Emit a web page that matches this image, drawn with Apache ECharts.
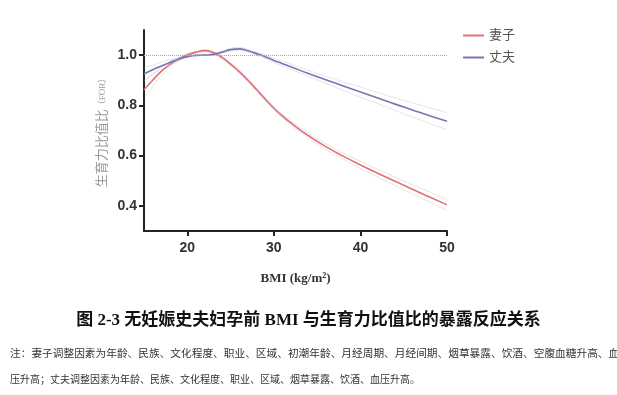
<!DOCTYPE html>
<html>
<head>
<meta charset="utf-8">
<script src="https://cdn.jsdelivr.net/npm/echarts@6/dist/echarts.min.js"></script>
<style>html,body{margin:0;padding:0;background:#fff}#c{width:617px;height:395px}</style>
</head>
<body>
<div id="c"></div>
<script>
const bmi = [15,16,17,18,19,20,21,22,23,24,25,26,27,28,29,30,31,32,34,36,38,40,42,44,46,48,50];
const wife = [0.862,0.900,0.935,0.963,0.985,1.001,1.012,1.018,1.010,0.991,0.964,0.934,0.900,0.863,0.825,0.789,0.757,0.729,0.679,0.636,0.598,0.563,0.530,0.498,0.466,0.435,0.404];
const wifeUpper = [0.897,0.925,0.952,0.974,0.993,1.006,1.015,1.022,1.015,0.997,0.970,0.940,0.906,0.869,0.831,0.796,0.764,0.737,0.689,0.647,0.610,0.577,0.545,0.515,0.484,0.455,0.426];
const wifeLower = [0.827,0.875,0.918,0.952,0.977,0.996,1.009,1.014,1.005,0.985,0.958,0.928,0.894,0.857,0.819,0.782,0.750,0.721,0.669,0.625,0.586,0.549,0.515,0.481,0.448,0.415,0.382];
const husband = [0.925,0.942,0.957,0.971,0.984,0.994,0.999,1.000,1.003,1.012,1.022,1.025,1.017,1.006,0.994,0.979,0.966,0.953,0.927,0.902,0.877,0.853,0.829,0.805,0.782,0.759,0.737];
const husbandUpper = [0.950,0.960,0.972,0.981,0.990,0.998,1.001,1.002,1.006,1.016,1.027,1.031,1.023,1.012,1.001,0.987,0.975,0.963,0.939,0.916,0.894,0.873,0.851,0.830,0.810,0.790,0.771];
const husbandLower = [0.900,0.924,0.942,0.961,0.978,0.990,0.997,0.998,1.000,1.008,1.017,1.019,1.011,1.000,0.987,0.971,0.957,0.943,0.915,0.888,0.860,0.833,0.807,0.780,0.754,0.728,0.703];
const xTicks = [20,30,40,50];
const yTicks = [0.4,0.6,0.8,1.0];
const refValue = 1.0;
const names = ['妻子','丈夫'];
const titleText = '图 2-3 无妊娠史夫妇孕前 BMI 与生育力比值比的暴露反应关系';
const note1 = '注：妻子调整因素为年龄、民族、文化程度、职业、区域、初潮年龄、月经周期、月经间期、烟草暴露、饮酒、空腹血糖升高、血';
const note2 = '压升高；丈夫调整因素为年龄、民族、文化程度、职业、区域、烟草暴露、饮酒、血压升高。';

const pairs = (xs, ys) => xs.map((x, i) => [x, ys[i]]);
const RED = '#e46f78', BLUE = '#7676b6', BAND = 'rgba(170,170,170,0.3)';
const cjk = '"Liberation Serif","Noto Sans CJK SC",serif';

const chart = echarts.init(document.getElementById('c'));
const bandSeries = (d) => ({
  type: 'line', data: d, smooth: true, showSymbol: false, silent: true,
  lineStyle: { color: BAND, width: 1 }, z: 1
});
chart.setOption({
  animation: false,
  backgroundColor: '#fff',
  grid: { left: 144, right: 170, top: 30, bottom: 164 },
  legend: {
    data: names, orient: 'vertical', left: 458, top: 24, itemGap: 9,
    icon: 'rect', itemWidth: 21, itemHeight: 2,
    textStyle: { color: '#555', fontSize: 13, fontFamily: cjk }
  },
  xAxis: {
    type: 'value', min: 15, max: 50,
    axisLine: { show: true, lineStyle: { color: '#222', width: 2 } },
    axisTick: { show: true, length: 5, lineStyle: { color: '#222', width: 2 }, customValues: xTicks },
    axisLabel: { customValues: xTicks, margin: 10, color: '#333', fontSize: 14, fontWeight: 'bold', fontFamily: '"Liberation Sans",Arial,sans-serif' },
    splitLine: { show: false },
    name: 'BMI (kg/m{s|2})', nameLocation: 'middle', nameGap: 41,
    nameTextStyle: { color: '#333', fontSize: 13, fontWeight: 'bold', fontFamily: cjk,
      rich: { s: { fontSize: 8, fontWeight: 'bold', verticalAlign: 'top', color: '#333', fontFamily: cjk, padding: [0,0,6,0] } } }
  },
  yAxis: {
    type: 'value', min: 0.3, max: 1.1,
    axisLine: { show: true, lineStyle: { color: '#222', width: 2 } },
    axisTick: { show: true, length: 5, lineStyle: { color: '#222', width: 2 }, customValues: yTicks },
    axisLabel: { customValues: yTicks, margin: 7, color: '#333', fontSize: 14, fontWeight: 'bold', fontFamily: '"Liberation Sans",Arial,sans-serif',
      formatter: v => v.toFixed(1) },
    splitLine: { show: false },
    name: '生育力比值比{f|（FOR）}', nameLocation: 'middle', nameGap: 35, nameRotate: 90,
    nameTextStyle: { color: '#999', fontSize: 13, fontFamily: cjk,
      rich: { f: { fontSize: 9, color: '#999', fontFamily: cjk } } }
  },
  series: [
    bandSeries(pairs(bmi, wifeUpper)),
    bandSeries(pairs(bmi, wifeLower)),
    bandSeries(pairs(bmi, husbandUpper)),
    bandSeries(pairs(bmi, husbandLower)),
    { name: names[0], type: 'line', data: pairs(bmi, wife), smooth: true, showSymbol: false,
      lineStyle: { color: RED, width: 1.6 }, itemStyle: { color: RED }, z: 3,
      markLine: { silent: true, symbol: 'none', label: { show: false },
        lineStyle: { color: '#aaa', type: 'dotted', width: 1 }, data: [{ yAxis: refValue }] } },
    { name: names[1], type: 'line', data: pairs(bmi, husband), smooth: true, showSymbol: false,
      lineStyle: { color: BLUE, width: 1.6 }, itemStyle: { color: BLUE }, z: 4 }
  ],
  graphic: [
    { type: 'text', left: 'center', top: 312, style: { text: titleText, fontSize: 17, fontWeight: 'bold', fill: '#111', fontFamily: cjk } },
    { type: 'text', left: 10, top: 349, style: { text: note1, fontSize: 10.7, fill: '#333', fontFamily: cjk } },
    { type: 'text', left: 10, top: 375, style: { text: note2, fontSize: 10, fill: '#333', fontFamily: cjk } }
  ]
});
</script>
</body>
</html>
